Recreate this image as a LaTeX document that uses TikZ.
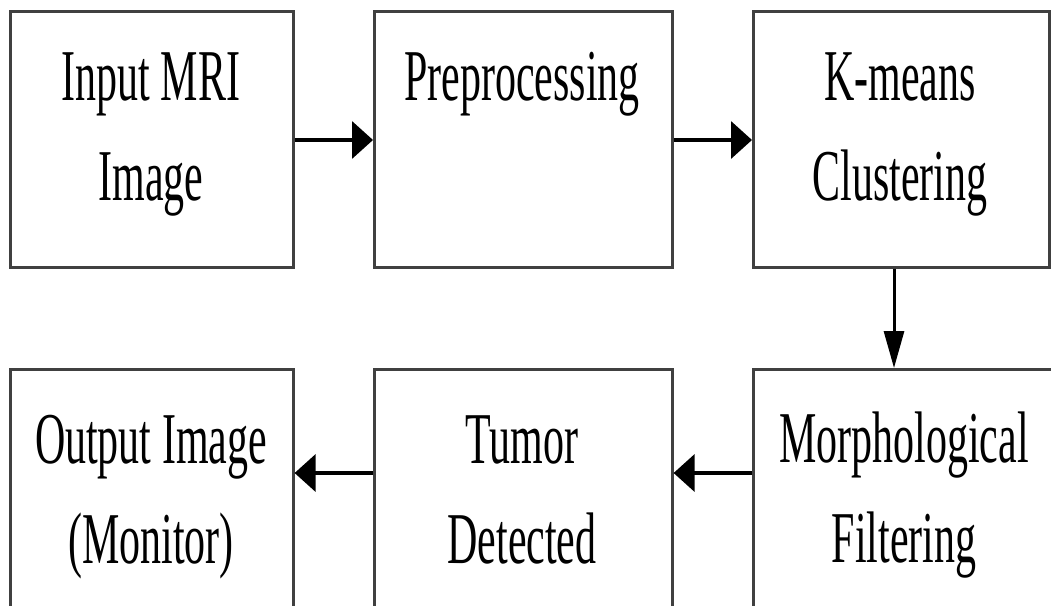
\documentclass[tikz,border=0pt]{standalone}
\usepackage{fontspec}
\setmainfont{Liberation Serif}[FakeStretch=0.575]
\usetikzlibrary{arrows.meta}
\begin{document}
\begin{tikzpicture}[x=1pt,y=-1pt,
  box/.style={draw=black!75, line width=2.6pt, rectangle, inner sep=0pt, anchor=north west},
  lbl/.style={font=\fontsize{73}{100}\selectfont, align=center, anchor=base, inner sep=0pt},
  harrow/.style={line width=3.6pt, -{Triangle[length=21pt,width=37pt]}},
  varrow/.style={line width=3pt, -{Triangle[length=37pt,width=20pt]}}]
\useasboundingbox (0,0) rectangle (1051,605);
\clip (0,0) rectangle (1051,605);
\fill[white] (0,0) rectangle (1051,605);
% top row
\node[box, minimum width=283pt, minimum height=256pt] (b1) at (9,10) {};
\node[box, minimum width=298pt, minimum height=256pt] (b2) at (373,10) {};
\node[box, minimum width=296pt, minimum height=256pt] (b3) at (752,10) {};
% bottom row (cut off by the picture's lower edge)
\node[box, minimum width=283pt, minimum height=300pt] (b4) at (9,368) {};
\node[box, minimum width=298pt, minimum height=300pt] (b5) at (373,368) {};
\node[box, minimum width=320pt, minimum height=300pt] (b6) at (752,368) {};
% labels (anchor = baseline of the last line)
\node[lbl] (t1) at (151,200) {Input MRI\\Image};
\node[lbl] (t2) at (522,100) {Preprocessing};
\node[lbl] (t3) at (900,200) {K-means\\Clustering};
\node[lbl] (t4) at (151,563) {Output Image\\(Monitor)};
\node[lbl] (t5) at (522,563) {Tumor\\Detected};
\node[lbl] (t6) at (904,562) {Morphological\\Filtering};
% connectors
\coordinate (r1) at (0,140);
\coordinate (r2) at (0,473);
\coordinate (vx) at (894,0);
\draw[harrow] (b1.east |- r1) -- (b2.west |- r1);
\draw[harrow] (b2.east |- r1) -- (b3.west |- r1);
\draw[varrow] (b3.south -| vx) -- (b6.north -| vx);
\draw[harrow] (b6.west |- r2) -- (b5.east |- r2);
\draw[harrow] (b5.west |- r2) -- (b4.east |- r2);
\end{tikzpicture}
\end{document}
